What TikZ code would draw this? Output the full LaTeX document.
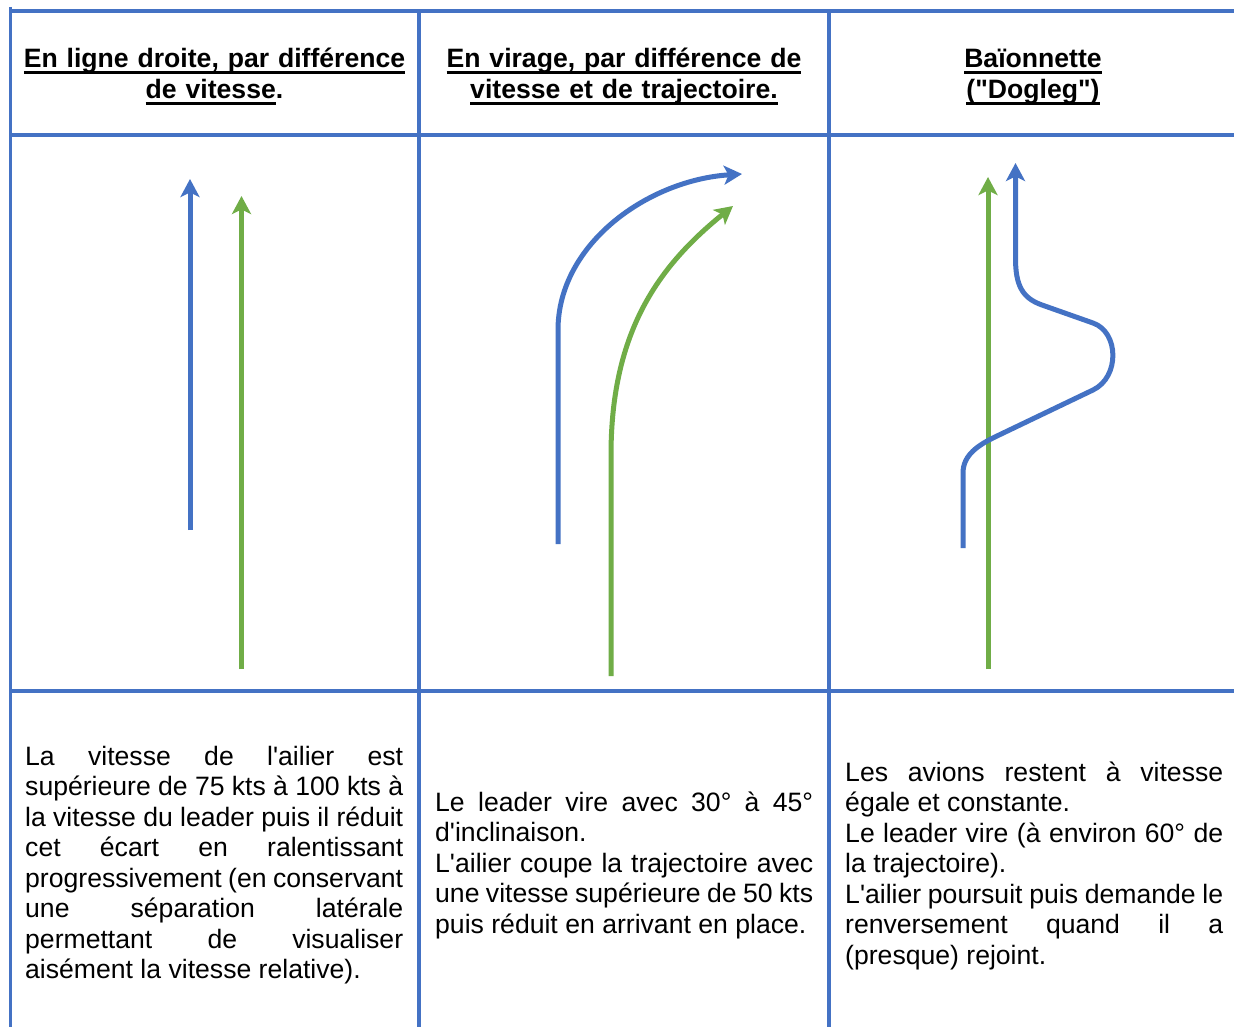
\documentclass[tikz,border=0pt]{standalone}
\usepackage{fontspec}
\setmainfont{Liberation Sans}
\usetikzlibrary{arrows.meta}
\definecolor{tblue}{HTML}{4472C4}
\definecolor{tgreen}{HTML}{70AD47}
\newlength\hulwd
\newcommand\hul[1]{\leavevmode\settowidth{\hulwd}{#1}\rlap{\rule[-5.6pt]{\hulwd}{2.8pt}}#1}
\begin{document}
\begin{tikzpicture}[x=1pt,y=-1pt,
  grid/.style={draw=tblue,line width=3.6pt},
  head/.style={font=\fontsize{26.6}{31}\selectfont\bfseries, text width=390pt, align=center, inner sep=0pt, anchor=base},
  body/.style={font=\fontsize{26.6}{30.5}\selectfont, text width=378pt, align=justify, inner sep=0pt, anchor=base west},
  trk/.style={line width=5pt, line join=round, -{Stealth[length=18pt,width=19pt,inset=4.5pt]}},
  lead/.style={trk,draw=tblue},
  wing/.style={trk,draw=tgreen}]
\useasboundingbox (0,0) rectangle (1234,1027);
\fill[white] (0,0) rectangle (1234,1027);
\clip (0,0) rectangle (1234,1027);
% grid
\draw[grid] (10.5,7) -- (10.5,1030);
\draw[grid] (419,11) -- (419,1030);
\draw[grid] (829,11) -- (829,1030);
\draw[grid] (9,11) -- (1240,11);
\draw[grid] (9,135) -- (1240,135);
\draw[grid] (9,691) -- (1240,691);
% headers
\node[head] (h1) at (214.5,68) {\hul{En ligne droite, par différence}\\\hul{de vitesse}.};
\node[head] (h2) at (624,68) {\hul{En virage, par différence de}\\\hul{vitesse et de trajectoire.}};
\node[head] (h3) at (1033,68) {\hul{Baïonnette}\\\hul{(\textquotedbl Dogleg\textquotedbl)}};
% column 1
\coordinate (b1s) at (190,530); \coordinate (b1e) at (190,179);
\coordinate (g1s) at (241.5,669); \coordinate (g1e) at (241.5,196);
\draw[lead] (b1s) -- (b1e);
\draw[wing] (g1s) -- (g1e);
% column 2
\coordinate (b2s) at (558,544); \coordinate (b2m) at (558,330); \coordinate (b2e) at (742,174);
\draw[lead] (b2s) -- (b2m) .. controls (558,244) and (648,180) .. (b2e);
\coordinate (g2s) at (611,676); \coordinate (g2m) at (611,455); \coordinate (g2e) at (733,206);
\draw[wing] (g2s) -- (g2m) .. controls (611,330) and (660,265) .. (g2e);
% column 3
\coordinate (g3s) at (988,669); \coordinate (g3e) at (988,177);
\draw[wing] (g3s) -- (g3e);
\coordinate (b3a) at (963,548); \coordinate (b3b) at (963,473);
\coordinate (b3c) at (997,436); \coordinate (b3d) at (1093,390);
\coordinate (b3e) at (1093,323); \coordinate (b3f) at (1042,305);
\coordinate (b3g) at (1015.5,258); \coordinate (b3h) at (1015.5,163);
\draw[lead] (b3a) -- (b3b) .. controls (963,455) and (978,445) .. (b3c) -- (b3d)
  .. controls (1120,377) and (1119,332) .. (b3e) -- (b3f)
  .. controls (1022,298) and (1015.5,285) .. (b3g) -- (b3h);
% body texts
\node[body] (t1) at (25,765) {La vitesse de l\textquotesingle ailier est\linebreak
supérieure de 75 kts à 100 kts à\linebreak
la vitesse du leader puis il réduit\linebreak
cet écart en ralentissant\linebreak
progressivement (en conservant\linebreak
une séparation latérale\linebreak
permettant de visualiser\linebreak
aisément la vitesse relative).};
\node[body] (t2) at (435,811) {Le leader vire avec 30° à 45°\linebreak
d\textquotesingle inclinaison.\\
L\textquotesingle ailier coupe la trajectoire avec\linebreak
une vitesse supérieure de 50 kts\linebreak
puis réduit en arrivant en place.};
\node[body] (t3) at (845,781) {Les avions restent à vitesse\linebreak
égale et constante.\\
Le leader vire (à environ 60° de\linebreak
la trajectoire).\\
L\textquotesingle ailier poursuit puis demande le\linebreak
renversement quand il a\linebreak
(presque) rejoint.};
\end{tikzpicture}
\end{document}
